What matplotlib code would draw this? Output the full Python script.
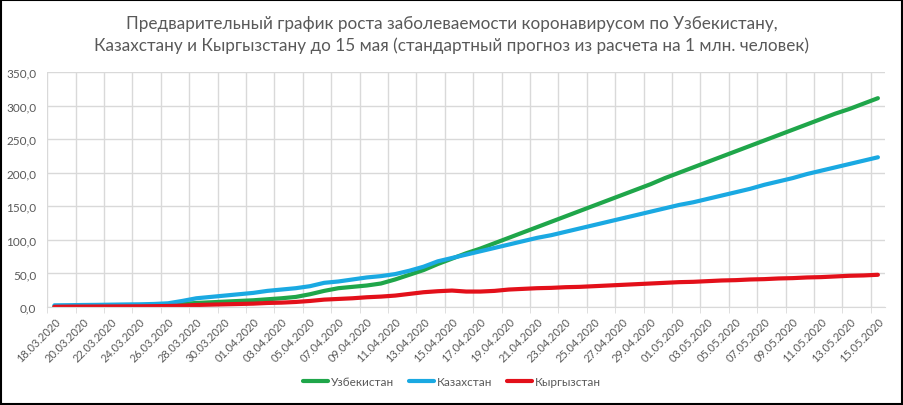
import numpy as np
import pandas as pd
import matplotlib
matplotlib.use("Agg")
import matplotlib.pyplot as plt
from matplotlib.patches import Rectangle
from matplotlib.ticker import FixedLocator, FuncFormatter

plt.rcParams['font.family'] = ['Lato', 'DejaVu Sans']

title = ("Предварительный график роста заболеваемости коронавирусом по Узбекистану,\n"
         "Казахстану и Кыргызстану до 15 мая (стандартный прогноз из расчета на 1 млн. человек)")

dates = [d.strftime("%d.%m.%Y") for d in pd.date_range("2020-03-18", "2020-05-15", freq="D")]

uzbekistan = [1, 1, 1.2, 1.5, 1.8, 2, 2.5, 3, 3.5, 4.5,
              6, 7, 8, 9, 10, 11.5, 13, 15, 19, 24,
              28, 30, 32, 35, 41, 48, 55, 64, 72, 80,
              87, 95, 103, 111, 119, 127, 135, 143, 151, 159,
              167, 175, 183, 192, 200, 208, 216, 224, 232, 240,
              248, 256, 264, 272, 280, 288, 295, 303, 311]

kazakhstan = [2.5, 2.7, 3, 3.2, 3.5, 3.8, 4, 4.5, 5.5, 9,
              13, 15, 17, 19, 21, 24, 26, 28, 31, 36,
              38, 41, 44, 46, 49, 54, 60, 68, 73, 78,
              83, 88, 93, 98, 103, 107, 112, 117, 122, 127,
              132, 137, 142, 147, 152, 156, 161, 166, 171, 176,
              182, 187, 192, 198, 203, 208, 213, 218, 223]

kyrgyzstan = [0.3, 0.5, 0.6, 0.7, 0.8, 0.9, 1, 1.2, 1.5, 2,
              3, 3.5, 4, 4.5, 5, 6, 6.5, 7.5, 9, 11,
              12, 13, 14.5, 15.5, 17, 19.5, 22, 23.5, 24.5, 23,
              23, 24, 26, 27, 28, 28.5, 29.5, 30, 31, 32,
              33, 34, 35, 36, 37, 37.5, 38.5, 39.5, 40, 41,
              41.5, 42.5, 43, 44, 44.5, 45.5, 46.5, 47, 48]

series_names = ["Узбекистан", "Казахстан", "Кыргызстан"]
colors = ["#1FA64A", "#1AA9E2", "#E3101A"]

fig = plt.figure(figsize=(9.04, 4.06), dpi=100)
ax = fig.add_axes([47.3/904, 1-308/406, (885-47.3)/904, (308-73)/406])

x = np.arange(len(dates))
for vals, name, c in zip([uzbekistan, kazakhstan, kyrgyzstan], series_names, colors):
    ax.plot(x, vals, color=c, lw=3.0, label=name, solid_capstyle='round', solid_joinstyle='round')

ax.set_xlim(-0.5, len(dates) - 0.5)
ax.set_ylim(0, 350)

gray = "#D9D9D9"
txt = "#595959"
ax.set_yticks(np.arange(0, 351, 50))
ax.yaxis.set_major_formatter(FuncFormatter(lambda v, p: f"{v:.1f}".replace(".", ",")))
ax.grid(axis='y', color=gray, lw=1)
for gx in np.arange(-0.5, len(dates) - 0.5, 2):
    ax.axvline(gx, color=gray, lw=1, zorder=0)

ax.set_xticks(x[::2])
ax.set_xticklabels(dates[::2], rotation=45, ha='right', rotation_mode='anchor')
ax.xaxis.set_minor_locator(FixedLocator(np.arange(-0.5, len(dates) - 0.5, 2)))
ax.tick_params(axis='x', which='major', length=0, pad=6, labelsize=8, labelcolor=txt)
ax.tick_params(axis='x', which='minor', length=4, color=gray)
ax.tick_params(axis='y', length=0, pad=8, labelsize=8.5, labelcolor=txt)
for s in ['top', 'right', 'left']:
    ax.spines[s].set_visible(False)
ax.spines['bottom'].set_color(gray)
ax.set_axisbelow(True)

fig.text(0.5, 1-35/406, title, ha='center', va='center', fontsize=12.3, color=txt, linespacing=1.45)

leg = fig.legend(loc='center', bbox_to_anchor=(0.5, 1-383/406), ncol=3, frameon=False,
                 fontsize=8.5, handlelength=2.1, columnspacing=1.3, handletextpad=0.25)
for t in leg.get_texts():
    t.set_color(txt)

fig.patches.append(Rectangle((0.001, 0.002), 0.997, 0.995, transform=fig.transFigure,
                             fill=False, edgecolor='black', lw=1.5))

fig.savefig("out.png", dpi=100)
